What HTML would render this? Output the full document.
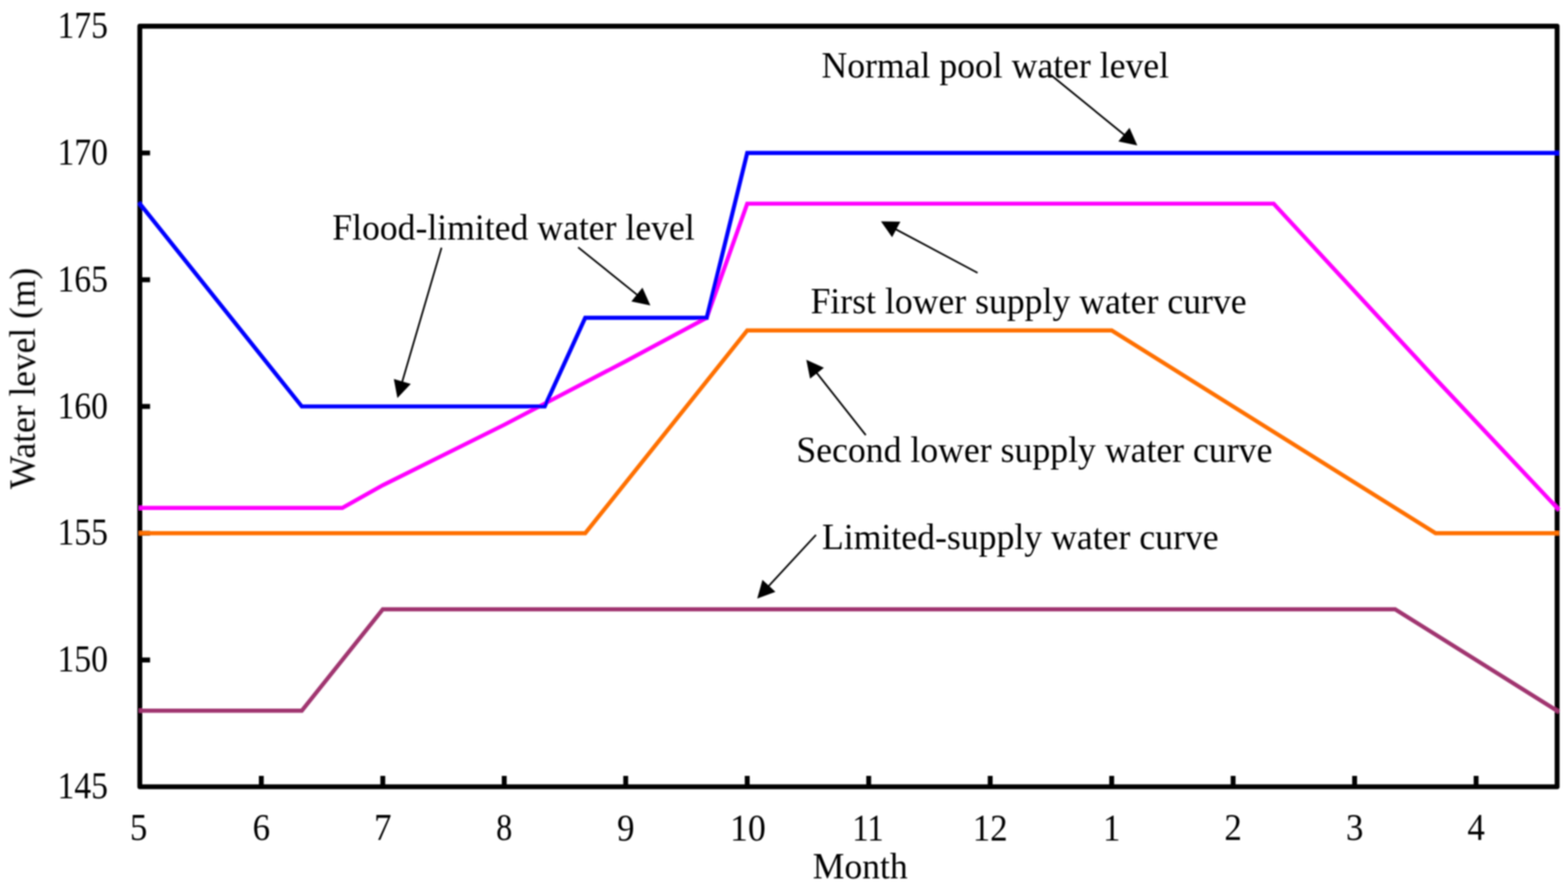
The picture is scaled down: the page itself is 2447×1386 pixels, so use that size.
<!DOCTYPE html>
<html><head><meta charset="utf-8"><title>Water level chart</title>
<style>html,body{margin:0;padding:0;background:#fff;}body{width:2447px;height:1386px;overflow:hidden;}svg{display:block;}</style>
</head><body>
<svg width="2447" height="1386" viewBox="0 0 2447 1386">
<defs><filter id="soft" x="0" y="0" width="2447" height="1386" filterUnits="userSpaceOnUse"><feGaussianBlur stdDeviation="0.9"/></filter></defs>
<rect width="2447" height="1386" fill="#fff"/>
<g filter="url(#soft)">
<rect x="218.2" y="40.9" width="2211.8" height="1187.1" fill="none" stroke="#000" stroke-width="7.6" stroke-linejoin="round"/>
<path d="M218.2,238.8H234.2M218.2,436.6H234.2M218.2,634.4H234.2M218.2,832.3H234.2M218.2,1030.1H234.2M407.8,1228V1211M597.4,1228V1211M786.9,1228V1211M976.5,1228V1211M1166.1,1228V1211M1355.7,1228V1211M1545.3,1228V1211M1734.9,1228V1211M1924.4,1228V1211M2114.0,1228V1211M2303.6,1228V1211" stroke="#000" stroke-width="7.6" fill="none"/>
<g fill="none" stroke-width="6.4" stroke-linejoin="miter" stroke-miterlimit="10">
<polyline points="216.9,1109.3 471.0,1109.3 597.4,951.0 2177.2,951.0 2433.0,1111.2" stroke="#A03470"/>
<polyline points="216.9,832.3 913.3,832.3 1166.1,515.7 1734.9,515.7 2240.4,832.3 2433.0,832.3" stroke="#FF7000"/>
<polyline points="216.9,792.7 534.2,792.7 597.4,757.3 786.9,663.0 976.5,563.8 1102.9,496.0 1166.1,317.9 1987.6,317.9 2241.5,592.5 2433.0,795.9" stroke="#FF00FF"/>
<polyline points="216.9,316.3 471.0,634.4 850.1,634.4 913.3,496.0 1102.9,496.0 1166.1,238.8 2433.0,238.8" stroke="#0000FF"/>
</g>
<g stroke="#000" fill="#000" stroke-width="2.7">
<line x1="1639.8" y1="116.9" x2="1758.2" y2="213.4"/><polygon points="1774.9,227.1 1745.3,220.7 1762.7,199.4" stroke="none"/>
<line x1="689.0" y1="386.6" x2="626.3" y2="600.6"/><polygon points="620.2,621.3 614.6,591.5 641.0,599.3" stroke="none"/>
<line x1="902.2" y1="386.0" x2="998.2" y2="463.2"/><polygon points="1015.0,476.7 985.3,470.5 1002.6,449.1" stroke="none"/>
<line x1="1525.6" y1="425.9" x2="1393.9" y2="355.7"/><polygon points="1374.8,345.5 1405.1,346.1 1392.2,370.3" stroke="none"/>
<line x1="1351.1" y1="679.1" x2="1271.7" y2="578.4"/><polygon points="1258.3,561.4 1285.8,574.1 1264.2,591.1" stroke="none"/>
<line x1="1273.4" y1="834.8" x2="1196.3" y2="918.3"/><polygon points="1181.7,934.2 1189.9,905.0 1210.1,923.7" stroke="none"/>
</g>
<g font-family="Liberation Serif, Times New Roman, serif" font-size="58" fill="#000">
<text transform="translate(89.78,59.10) scale(0.9037,1.010)">175</text>
<text transform="translate(89.78,256.95) scale(0.9037,1.010)">170</text>
<text transform="translate(89.78,454.80) scale(0.9037,1.010)">165</text>
<text transform="translate(89.78,652.65) scale(0.9037,1.010)">160</text>
<text transform="translate(89.78,850.50) scale(0.9037,1.010)">155</text>
<text transform="translate(89.78,1048.35) scale(0.9037,1.010)">150</text>
<text transform="translate(89.78,1246.20) scale(0.9037,1.010)">145</text>
<text transform="translate(202.79,1311.50) scale(0.9375,1.020)">5</text>
<text transform="translate(394.15,1311.50) scale(0.9400,1.020)">6</text>
<text transform="translate(583.74,1311.50) scale(0.9400,1.020)">7</text>
<text transform="translate(774.16,1311.50) scale(0.8680,1.020)">8</text>
<text transform="translate(962.90,1311.50) scale(0.9400,1.020)">9</text>
<text transform="translate(1139.29,1311.50) scale(0.9627,1.020)">10</text>
<text transform="translate(1329.89,1311.50) scale(0.8830,1.020)">11</text>
<text transform="translate(1518.02,1311.50) scale(0.9400,1.020)">12</text>
<text transform="translate(1721.23,1311.50) scale(0.9400,1.020)">1</text>
<text transform="translate(1910.82,1311.50) scale(0.9400,1.020)">2</text>
<text transform="translate(2100.40,1311.50) scale(0.9400,1.020)">3</text>
<text transform="translate(2289.98,1311.50) scale(0.9400,1.020)">4</text>
<text transform="translate(1268.18,1371.40) scale(0.9599,1.000)">Month</text>
<text transform="translate(54.3,763.50) rotate(-90) scale(0.9536,1)">Water level (m)</text>
<text transform="translate(1281.98,120.70) scale(0.9598,1.000)">Normal pool water level</text>
<text transform="translate(518.48,373.70) scale(0.9599,1.000)">Flood-limited water level</text>
<text transform="translate(1264.88,488.70) scale(0.9604,1.000)">First lower supply water curve</text>
<text transform="translate(1242.76,721.30) scale(0.9610,1.000)">Second lower supply water curve</text>
<text transform="translate(1282.68,856.50) scale(0.9613,1.000)">Limited-supply water curve</text>
</g>
</g>
</svg>
</body></html>
